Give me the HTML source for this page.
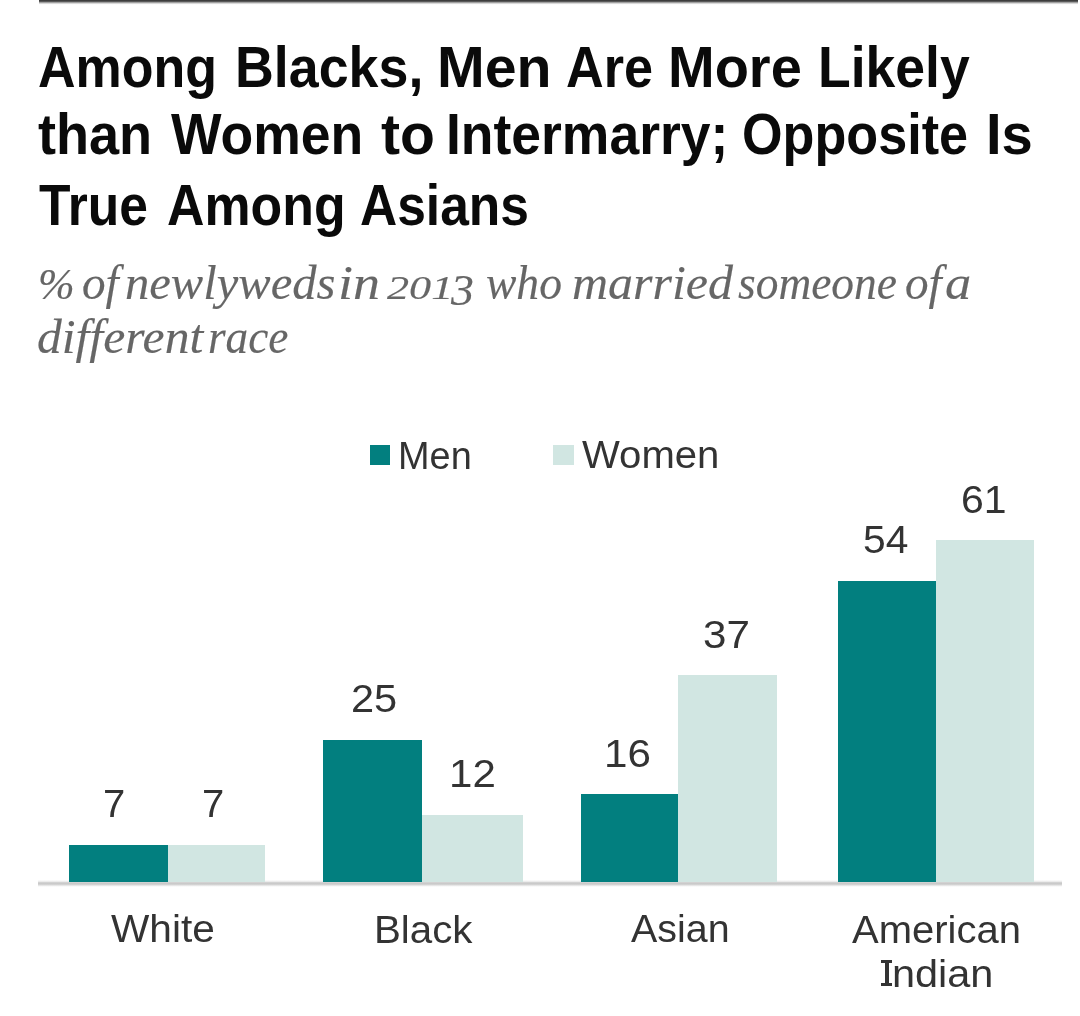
<!DOCTYPE html>
<html><head><meta charset="utf-8">
<style>
html,body{margin:0;padding:0;background:#fff;}
#c{filter:blur(0.4px);position:relative;width:1080px;height:1016px;overflow:hidden;background:#fff;}
.a{position:absolute;}
.t{position:absolute;white-space:nowrap;line-height:1;transform-origin:0 0;}
.ti{font-family:"Liberation Sans",sans-serif;font-weight:bold;color:#0a0a0a;}
.su{font-family:"Liberation Serif",serif;font-style:italic;color:#666;-webkit-text-stroke:0.15px #666;}
.lb{font-family:"Liberation Sans",sans-serif;color:#333;}
.tm{background:#027f7f;}
.tl{background:#d1e6e2;}
</style></head><body>
<div id="c">
<div class="a" style="left:39px;top:0;width:1039px;height:5px;background:linear-gradient(#3d3d3d 0px,#3d3d3d 1px,#5a5a5a 1.5px,#a8a8a8 2.6px,#dedede 3.6px,#fff 4.6px)"></div>
<div class="a" style="left:38px;top:880px;width:1024px;height:7px;background:linear-gradient(#fff 0px,#ececec 1.5px,#cdcdcd 2.7px,#c8c8c8 3.8px,#dadada 5px,#f4f4f4 6px,#fff 7px)"></div>
<div class="a tm" style="left:370px;top:445px;width:20px;height:20px"></div>
<div class="a tl" style="left:553px;top:445px;width:21px;height:20px"></div>
<div class="a tm" style="left:69px;top:845px;width:99px;height:37px"></div>
<div class="a tl" style="left:168px;top:845px;width:97px;height:37px"></div>
<div class="a tm" style="left:323px;top:740px;width:99px;height:142px"></div>
<div class="a tl" style="left:422px;top:815px;width:101px;height:67px"></div>
<div class="a tm" style="left:581px;top:794px;width:97px;height:88px"></div>
<div class="a tl" style="left:678px;top:675px;width:99px;height:207px"></div>
<div class="a tm" style="left:838px;top:581px;width:98px;height:301px"></div>
<div class="a tl" style="left:936px;top:540px;width:98px;height:342px"></div>
<div class="a" style="left:881px;top:960px;width:11px;height:3px;background:#333"></div>
<div class="a" style="left:885.3px;top:960px;width:3.3px;height:26px;background:#333"></div>
<div class="a" style="left:881px;top:983.3px;width:11px;height:3.2px;background:#333"></div>
<div class="t ti" style="left:37.70px;top:37.60px;font-size:58px;transform:scaleX(0.8959);">Among</div>
<div class="t ti" style="left:235.40px;top:37.60px;font-size:58px;transform:scaleX(0.9272);">Blacks,</div>
<div class="t ti" style="left:437.30px;top:37.60px;font-size:58px;transform:scaleX(0.9873);">Men</div>
<div class="t ti" style="left:565.70px;top:37.60px;font-size:58px;transform:scaleX(0.8991);">Are</div>
<div class="t ti" style="left:667.80px;top:37.60px;font-size:58px;transform:scaleX(0.9655);">More</div>
<div class="t ti" style="left:817.80px;top:37.60px;font-size:58px;transform:scaleX(0.9230);">Likely</div>
<div class="t ti" style="left:37.70px;top:104.70px;font-size:58px;transform:scaleX(0.9322);">than</div>
<div class="t ti" style="left:170.80px;top:104.70px;font-size:58px;transform:scaleX(0.9226);">Women</div>
<div class="t ti" style="left:380.60px;top:104.70px;font-size:58px;transform:scaleX(0.9852);">to</div>
<div class="t ti" style="left:445.80px;top:104.70px;font-size:58px;transform:scaleX(0.9219);">Intermarry;</div>
<div class="t ti" style="left:741.70px;top:104.70px;font-size:58px;transform:scaleX(0.8996);">Opposite</div>
<div class="t ti" style="left:986.00px;top:104.70px;font-size:58px;transform:scaleX(0.9673);">Is</div>
<div class="t ti" style="left:39.40px;top:176.10px;font-size:58px;transform:scaleX(0.8884);">True</div>
<div class="t ti" style="left:166.70px;top:176.10px;font-size:58px;transform:scaleX(0.8939);">Among</div>
<div class="t ti" style="left:359.80px;top:176.10px;font-size:58px;transform:scaleX(0.8882);">Asians</div>
<div class="t su" style="left:37.80px;top:261.95px;font-size:45px;transform:scaleX(0.9771);">%</div>
<div class="t su" style="left:81.60px;top:257.95px;font-size:49px;transform:scaleX(0.9627);">of</div>
<div class="t su" style="left:125.10px;top:257.95px;font-size:49px;transform:scaleX(0.9915);">newlyweds</div>
<div class="t su" style="left:338.10px;top:257.95px;font-size:49px;transform:scaleX(1.1010);">in</div>
<div class="t su" style="left:387.00px;top:270.90px;font-size:34px;transform:scaleX(1.2984);">201</div>
<div class="t su" style="left:450.90px;top:269.40px;font-size:44px;transform:scaleX(1.0412);">3</div>
<div class="t su" style="left:486.00px;top:257.95px;font-size:49px;transform:scaleX(0.9293);">who</div>
<div class="t su" style="left:572.20px;top:257.95px;font-size:49px;transform:scaleX(1.0193);">married</div>
<div class="t su" style="left:738.40px;top:257.95px;font-size:49px;transform:scaleX(0.9271);">someone</div>
<div class="t su" style="left:904.50px;top:257.95px;font-size:49px;transform:scaleX(0.9626);">of</div>
<div class="t su" style="left:945.10px;top:257.95px;font-size:49px;transform:scaleX(1.0707);">a</div>
<div class="t su" style="left:36.70px;top:311.75px;font-size:49px;transform:scaleX(1.0122);">different</div>
<div class="t su" style="left:208.00px;top:311.75px;font-size:49px;transform:scaleX(0.9239);">race</div>
<div class="t lb" style="left:397.50px;top:436.60px;font-size:38px;transform:scaleX(0.9974);">Men</div>
<div class="t lb" style="left:582.10px;top:436.20px;font-size:38px;transform:scaleX(1.0547);">Women</div>
<div class="t lb" style="left:102.90px;top:784.35px;font-size:39px;transform:scaleX(1.0256);">7</div>
<div class="t lb" style="left:201.70px;top:784.35px;font-size:39px;transform:scaleX(1.0256);">7</div>
<div class="t lb" style="left:350.80px;top:678.85px;font-size:39px;transform:scaleX(1.0655);">25</div>
<div class="t lb" style="left:448.90px;top:753.85px;font-size:39px;transform:scaleX(1.0779);">12</div>
<div class="t lb" style="left:603.90px;top:733.65px;font-size:39px;transform:scaleX(1.0823);">16</div>
<div class="t lb" style="left:702.80px;top:614.65px;font-size:39px;transform:scaleX(1.0803);">37</div>
<div class="t lb" style="left:862.80px;top:519.85px;font-size:39px;transform:scaleX(1.0447);">54</div>
<div class="t lb" style="left:960.60px;top:479.65px;font-size:39px;transform:scaleX(1.0509);">61</div>
<div class="t lb" style="left:111.00px;top:910.00px;font-size:38px;transform:scaleX(1.0689);">White</div>
<div class="t lb" style="left:373.70px;top:910.50px;font-size:38px;transform:scaleX(1.0601);">Black</div>
<div class="t lb" style="left:631.00px;top:910.30px;font-size:38px;transform:scaleX(1.0367);">Asian</div>
<div class="t lb" style="left:852.00px;top:910.50px;font-size:38px;transform:scaleX(1.0532);">American</div>
<div class="t lb" style="left:892.00px;top:954.80px;font-size:38px;transform:scaleX(1.0909);">ndian</div></div>
</body></html>
